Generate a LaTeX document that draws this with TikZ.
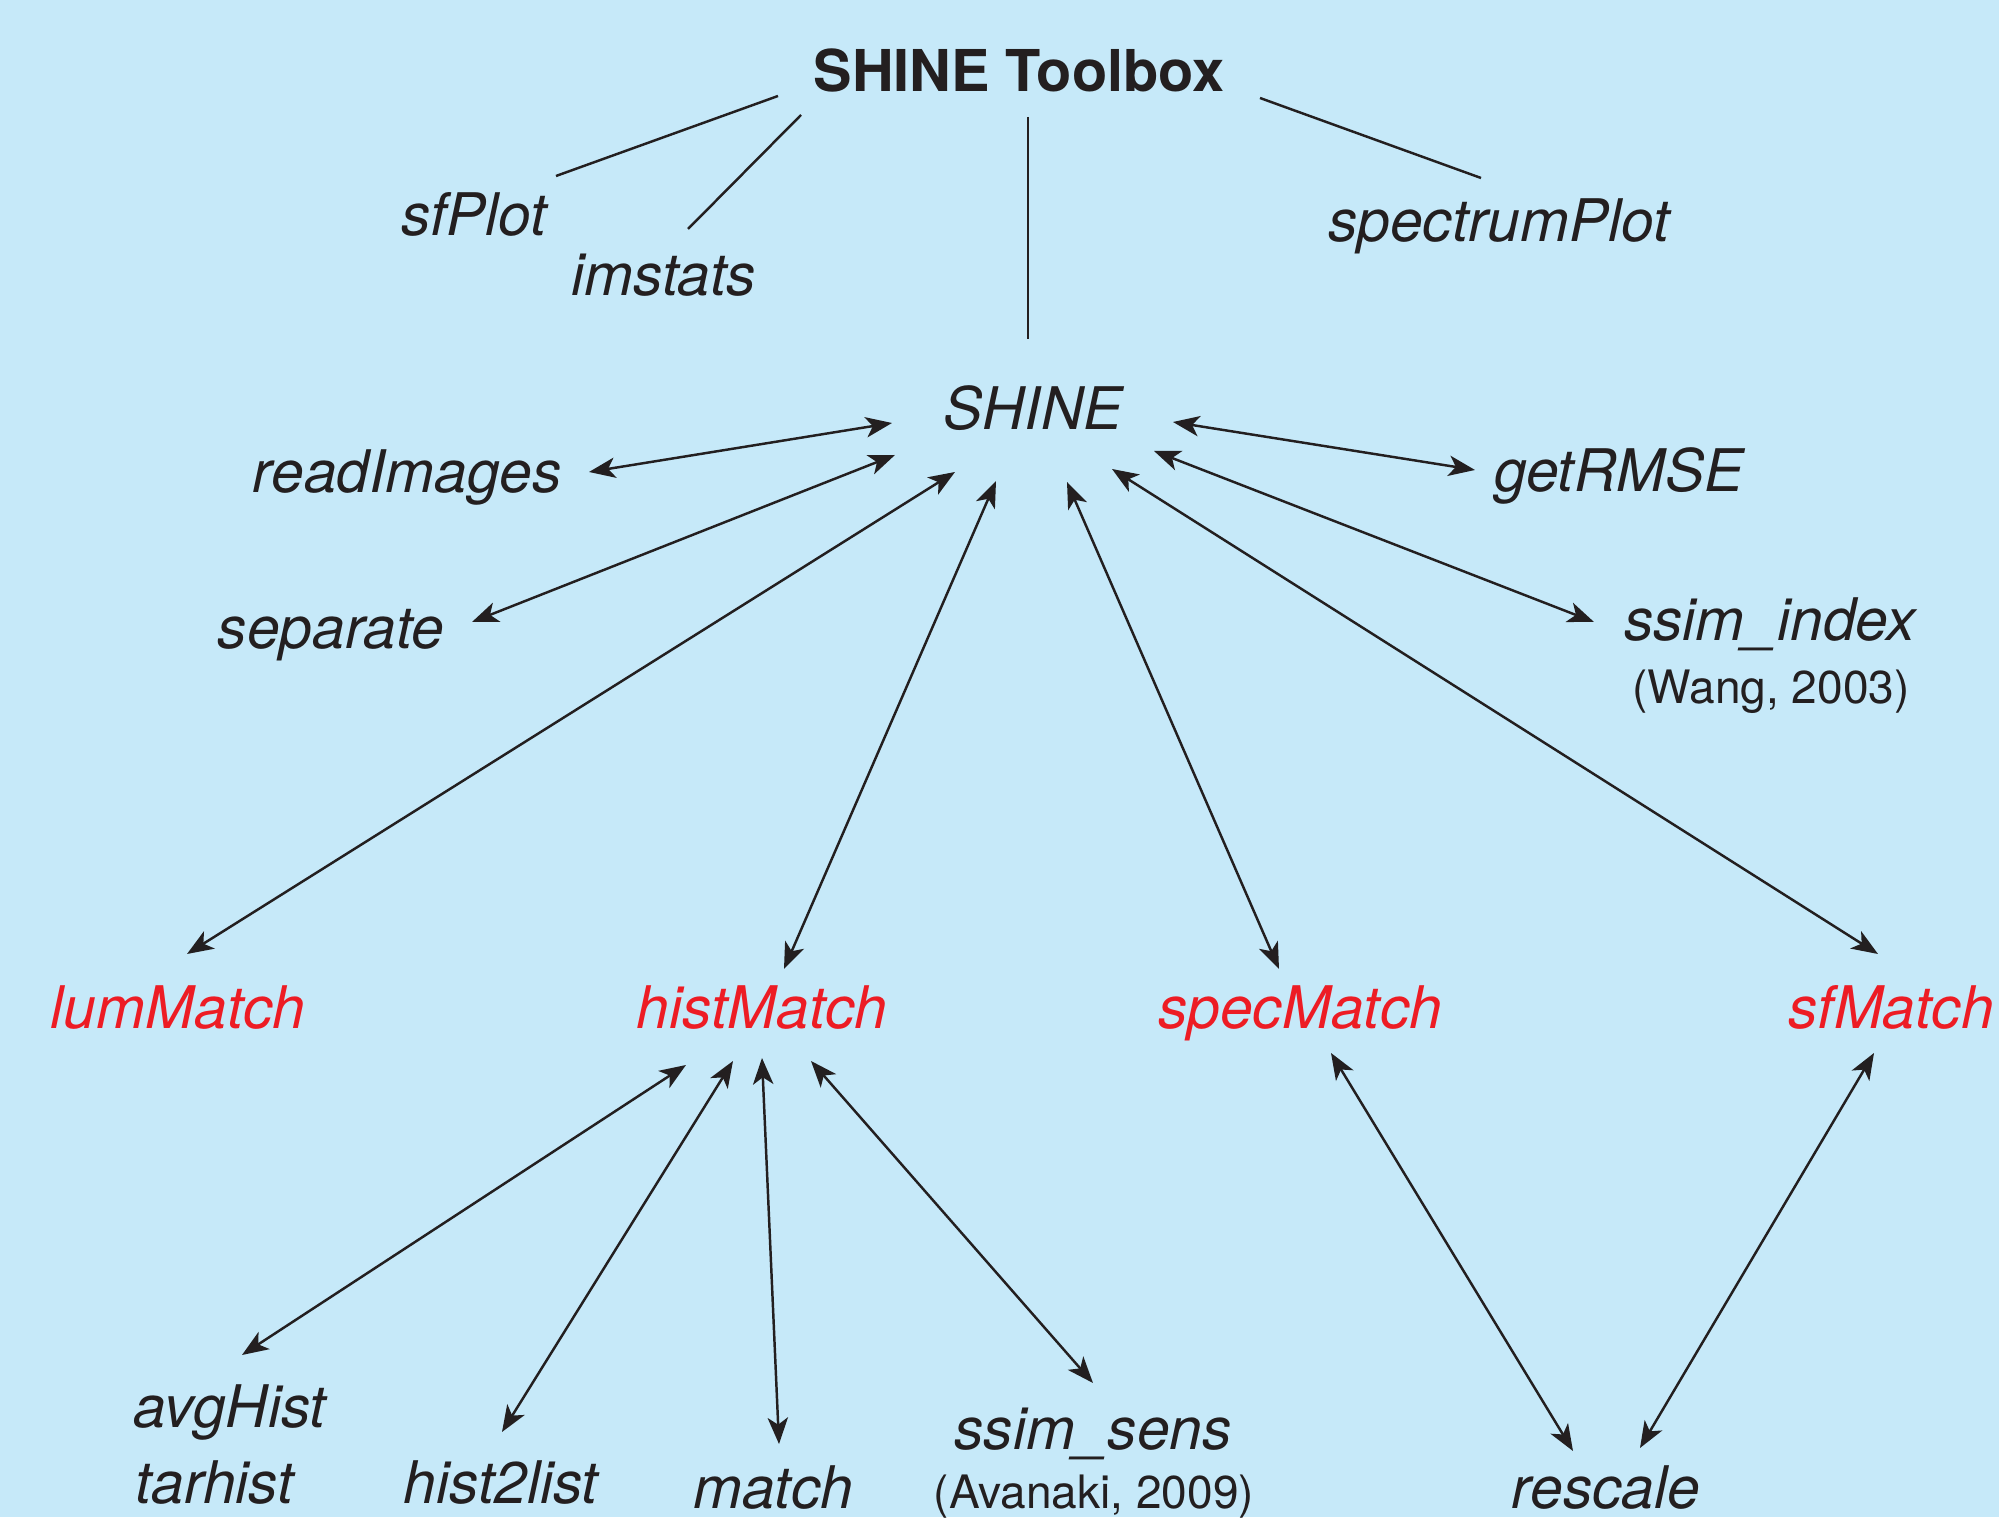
\documentclass[tikz,border=0pt]{standalone}
\usepackage{fontspec}
\setmainfont{TeX Gyre Heros}
\usepackage{xcolor}
\usetikzlibrary{arrows.meta,calc,positioning}

\definecolor{bgblue}{HTML}{C6E9F9}
\definecolor{matchred}{HTML}{ED1C24}
\definecolor{ink}{HTML}{231F20}

\begin{document}
\begin{tikzpicture}[
    x=0.01cm, y=-0.01cm,
    >={Stealth[length=7.5pt,width=5.8pt,inset=2pt]},
    fn/.style={inner sep=0pt, anchor=base, text=ink, font=\fontsize{16.7}{20}\selectfont\itshape},
    matchfn/.style={fn, text=matchred},
    cite/.style={inner sep=0pt, anchor=base, text=ink, font=\fontsize{13.1}{15}\selectfont},
    link/.style={draw=ink, line width=0.7pt},
    dbl/.style={link, <->}
]
    % Background
    \fill[bgblue] (0,0) rectangle (1999,1517);

    % Nodes
    \node[fn, font=\fontsize{16.4}{20}\selectfont\bfseries] (toolbox) at (1019,92) {SHINE Toolbox};
    \node[fn] (sfplot) at (474,236) {sfPlot};
    \node[fn] (imstats) at (664,296) {imstats};
    \node[fn] (specplot) at (1499,242) {spectrumPlot};
    \node[fn] (shine) at (1033,430) {SHINE};
    \node[fn] (readimg) at (407,493) {readImages};
    \node[fn] (getrmse) at (1619,492) {getRMSE};
    \node[fn] (separate) at (331,649) {separate};
    \node[fn] (ssimidx) at (1770,641) {ssim\_index};
    \node[cite] (wang) at (1771,704) {(Wang, 2003)};
    \node[matchfn] (lummatch) at (178,1029) {lumMatch};
    \node[matchfn] (histmatch) at (762,1029) {histMatch};
    \node[matchfn] (specmatch) at (1300,1029) {specMatch};
    \node[matchfn] (sfmatch) at (1891,1029) {sfMatch};
    \node[fn, anchor=base west] (avghist) at (133,1428) {avgHist};
    \node[fn, anchor=base west] (tarhist) at (135,1504) {tarhist};
    \node[fn] (hist2list) at (501,1504) {hist2list};
    \node[fn] (match) at (773,1508) {match};
    \node[fn] (ssimsens) at (1093,1450) {ssim\_sens};
    \node[cite] (avanaki) at (1094,1508) {(Avanaki, 2009)};
    \node[fn] (rescale) at (1606,1508) {rescale};

    % Toolbox lines
    \draw[link] ($(toolbox.base)+(-241,4)$) -- ($(sfplot.base)+(82,-60)$);
    \draw[link] ($(toolbox.base)+(-218,23)$) -- ($(imstats.base)+(24,-67)$);
    \draw[link] ($(toolbox.base)+(9,25)$) -- ($(shine.base)+(-5,-91)$);
    \draw[link] ($(toolbox.base)+(241,6)$) -- ($(specplot.base)+(-18,-64)$);

    % Arrows round SHINE
    \draw[dbl] ($(readimg.base)+(182,-21)$) -- ($(shine.base)+(-141,-7)$);
    \draw[dbl] ($(separate.base)+(141,-27)$) -- ($(shine.base)+(-138,25)$);
    \draw[dbl] ($(lummatch.base)+(9,-75)$) -- ($(shine.base)+(-78,42)$);
    \draw[dbl] ($(histmatch.base)+(22,-60)$) -- ($(shine.base)+(-37,51)$);
    \draw[dbl] ($(specmatch.base)+(-21,-60)$) -- ($(shine.base)+(34,52)$);
    \draw[dbl] ($(sfmatch.base)+(-13,-75)$) -- ($(shine.base)+(79,39)$);
    \draw[dbl] ($(getrmse.base)+(-144,-22)$) -- ($(shine.base)+(140,-8)$);
    \draw[dbl] ($(ssimidx.base)+(-176,-19)$) -- ($(shine.base)+(121,21)$);

    % Arrows below the match functions
    \draw[dbl] ($(avghist.base west)+(109,-73)$) -- ($(histmatch.base)+(-76,36)$);
    \draw[dbl] ($(hist2list.base)+(1,-72)$) -- ($(histmatch.base)+(-29,32)$);
    \draw[dbl] ($(match.base)+(6,-64)$) -- ($(histmatch.base)+(0,29)$);
    \draw[dbl] ($(ssimsens.base)+(0,-67)$) -- ($(histmatch.base)+(49,32)$);
    \draw[dbl] ($(rescale.base)+(-33,-57)$) -- ($(specmatch.base)+(31,24)$);
    \draw[dbl] ($(rescale.base)+(34,-60)$) -- ($(sfmatch.base)+(-17,24)$);
\end{tikzpicture}
\end{document}
